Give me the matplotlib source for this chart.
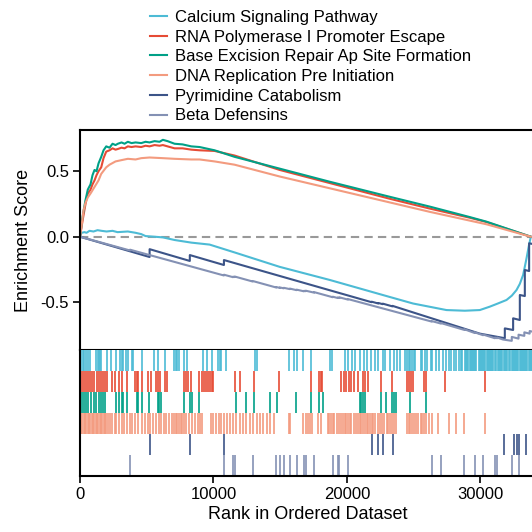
import matplotlib
matplotlib.use("Agg")
import matplotlib.pyplot as plt
from matplotlib.lines import Line2D

plt.rcParams['font.family'] = ['Liberation Sans', 'DejaVu Sans']

# gene set names and colours (ggsci npg)
set_names = ["Calcium Signaling Pathway", "RNA Polymerase I Promoter Escape",
             "Base Excision Repair Ap Site Formation", "DNA Replication Pre Initiation",
             "Pyrimidine Catabolism", "Beta Defensins"]
set_colors = ["#4DBBD5", "#E64B35", "#00A087", "#F39B7F", "#3C5488", "#8491B4"]

# running enrichment score
es_x_calcium = [0, 113, 338, 488, 713, 1013, 1313, 1613, 1988, 2438, 2813, 3585, 4163, 4590, 4913,
                5588, 6210, 7088, 8340, 9713, 11588, 14963, 18713, 23213, 24960, 27465, 28838,
                29963, 30713, 31313, 31965, 32363, 32715, 32963, 33210, 33465, 33638, 33788]
es_y_calcium = [0, 0.03, 0.035, 0.03, 0.045, 0.04, 0.05, 0.045, 0.04, 0.045, 0.035, 0.04, 0.03,
                0.02, 0.005, 0.0, -0.005, -0.025, -0.045, -0.06, -0.12, -0.23, -0.33, -0.46,
                -0.51, -0.56, -0.565, -0.56, -0.534, -0.51, -0.483, -0.45, -0.407, -0.36,
                -0.292, -0.165, -0.07, 0.0]

es_x_pos = [0, 188, 413, 585, 788, 938, 1088, 1238, 1388, 1590, 1763, 1965, 2213, 2438, 2663, 2835,
            3113, 3338, 3585, 3863, 4163, 4590, 4913, 5213, 5588, 5963, 6210, 6563, 7088, 7688,
            8340, 8963, 10088, 11588, 14963, 18713, 23213, 26213, 29213, 30465, 33788]
es_y_rna = [0, 0.12, 0.25, 0.33, 0.36, 0.40, 0.43, 0.47, 0.50, 0.53, 0.60, 0.65, 0.66, 0.675, 0.665,
            0.67, 0.68, 0.675, 0.69, 0.685, 0.69, 0.685, 0.695, 0.69, 0.70, 0.695, 0.70, 0.69,
            0.675, 0.675, 0.665, 0.66, 0.655, 0.62, 0.51, 0.41, 0.29, 0.215, 0.145, 0.112, 0.0]
es_y_ber = [0, 0.15, 0.28, 0.36, 0.40, 0.47, 0.51, 0.50, 0.56, 0.61, 0.66, 0.69, 0.68, 0.71, 0.70,
            0.71, 0.72, 0.71, 0.725, 0.715, 0.72, 0.715, 0.725, 0.72, 0.73, 0.725, 0.74, 0.73,
            0.71, 0.705, 0.69, 0.685, 0.66, 0.61, 0.52, 0.42, 0.305, 0.23, 0.15, 0.115, 0.0]

es_x_dna = [0, 113, 263, 413, 585, 788, 1088, 1388, 1590, 1965, 2213, 2663, 3113, 3585, 4163, 4590,
            5213, 6210, 7088, 8340, 8963, 10088, 11588, 14963, 18713, 22463, 26213, 30465, 33788]
es_y_dna = [0, 0.08, 0.20, 0.26, 0.30, 0.33, 0.38, 0.43, 0.48, 0.53, 0.55, 0.575, 0.585, 0.595,
            0.59, 0.60, 0.605, 0.60, 0.595, 0.59, 0.59, 0.575, 0.55, 0.46, 0.37, 0.28, 0.19,
            0.095, 0.0]

es_x_pyr = [0, 5217, 5217, 8230, 8230, 10787, 10787, 21852, 21852, 22358, 22358, 22687, 22687,
            23422, 23422, 29963, 31838, 31838, 32460, 32460, 32963, 32963, 33338, 33338, 33660,
            33660, 33900]
es_y_pyr = [0, -0.155, -0.095, -0.185, -0.140, -0.216, -0.178, -0.500, -0.496, -0.510, -0.506,
            -0.515, -0.511, -0.532, -0.528, -0.74, -0.775, -0.700, -0.712, -0.623, -0.636, -0.445,
            -0.453, -0.254, -0.262, -0.05, -0.055]

es_x_beta = [0, 3748, 3748, 10787, 10787, 11471, 11471, 11597, 11597, 12940, 12940, 14711, 14711,
             14965, 14965, 15269, 15269, 15724, 15724, 16230, 16230, 16786, 16786, 16913, 16913,
             17546, 17546, 18938, 18938, 19320, 19320, 19446, 19446, 20080, 20080, 26359, 26359,
             27043, 27043, 28815, 28815, 29575, 29575, 30208, 30208, 31094, 31094, 31270, 31270,
             31700, 32360, 32360, 32866, 32866, 33300, 33300, 33700, 33700, 33900]
es_y_beta = [0, -0.105, -0.099, -0.296, -0.290, -0.309, -0.305, -0.308, -0.304, -0.342, -0.338,
             -0.388, -0.384, -0.391, -0.387, -0.394, -0.390, -0.400, -0.396, -0.408, -0.404,
             -0.417, -0.413, -0.416, -0.412, -0.427, -0.423, -0.462, -0.458, -0.468, -0.464,
             -0.467, -0.463, -0.480, -0.476, -0.648, -0.644, -0.663, -0.659, -0.712, -0.707,
             -0.735, -0.730, -0.752, -0.747, -0.775, -0.770, -0.775, -0.770, -0.785, -0.795,
             -0.765, -0.778, -0.748, -0.757, -0.730, -0.740, -0.720, -0.725]

# hit positions for the rug panel
hits_calcium = [80, 203, 330, 457, 634, 786, 1216, 1343, 1419, 1495, 1596, 2052, 2356, 2735, 2989,
                3115, 3242, 3419, 3622, 3875, 4001, 4634, 5521, 5850, 6407, 7040, 7166, 7293, 7420,
                7799, 8053, 9192, 9496, 9876, 10331, 10458, 10585, 10914, 13117, 13243, 15649,
                16028, 16282, 16737, 17294, 18763, 18864, 19826, 20080, 20383, 20586, 20966, 21295,
                21472, 21801, 22105, 22358, 22738, 22865, 23245, 23498, 23751, 24004, 24384, 24511,
                24637, 24764, 24890, 25017, 25144, 25523, 25650, 25853, 26030, 26283, 26410, 26663,
                26916, 27169, 27422, 27676, 27802, 28055, 28182, 28430, 28520, 28600, 28850, 28940,
                29030, 29110, 29200, 29280, 29370, 29450, 29540, 29620, 29710, 29880, 29960, 30050,
                30130, 30220, 30300, 30390, 30470, 30560, 30640, 30730, 30810, 30900, 30980, 31070,
                31150, 31320, 31410, 31490, 31580, 31660, 31750, 31830, 31920, 32000, 32170, 32260,
                32340, 32430, 32510, 32600, 32680, 32770, 32850, 32940, 33020, 33110, 33190, 33280,
                33360, 33450, 33530, 33620, 33700, 33790, 33870]
hits_rna = [127, 279, 457, 583, 735, 887, 1039, 1242, 1393, 1545, 1697, 1849, 2001, 2432, 2609, 2913,
            3115, 3495, 4128, 4255, 4381, 4634, 5065, 5343, 5698, 5850, 6027, 6407, 6533, 7799,
            7926, 8103, 8306, 8939, 9141, 9268, 9445, 9572, 9749, 9876, 10002, 11597, 11977, 13041,
            14889, 17345, 17927, 18054, 18130, 19573, 19776, 19953, 20156, 20333, 20510, 20839,
            21219, 21346, 21599, 22536, 23371, 24511, 24688, 24840, 24941, 25777, 25954, 27372,
            30335]
hits_ber = [127, 330, 482, 634, 836, 1039, 1216, 1393, 1596, 1748, 1900, 2735, 2913, 3115, 3242,
            3495, 4255, 4381, 4634, 5141, 5850, 5951, 6103, 7799, 8230, 8382, 8888, 11724, 12433,
            13041, 14206, 14762, 16155, 17345, 17927, 18181, 20966, 21092, 21219, 21396, 22561,
            22915, 23371, 23498, 23675, 24764, 25954]
hits_dna = [80, 180, 280, 380, 480, 580, 680, 780, 880, 980, 1080, 1180, 1280, 1380, 1480, 1580,
            1680, 1780, 1880, 1980, 2080, 2229, 2406, 2609, 2735, 2913, 3115, 3318, 3495, 3748,
            3925, 4128, 4381, 4634, 4888, 5090, 5267, 5445, 5698, 5900, 6103, 6280, 6457, 6660,
            6913, 7040, 7166, 7293, 7420, 7546, 7673, 7799, 7976, 8179, 8382, 8635, 8812, 8989,
            9141, 9825, 10002, 10205, 10407, 10585, 10762, 11015, 11218, 11471, 11724, 11977,
            12180, 12433, 12737, 12990, 13243, 13496, 13750, 14003, 14256, 14509, 15649, 15775,
            16737, 16915, 17092, 17244, 17421, 17801, 18054, 18560, 18687, 18814, 18940, 19067,
            19269, 19447, 19573, 19700, 19826, 19953, 20080, 20206, 20333, 20535, 20713, 20839,
            20966, 21092, 21219, 21346, 21472, 21599, 21725, 21852, 21979, 22105, 22358, 22485,
            22612, 22814, 22991, 23118, 23245, 23371, 23498, 23675, 24511, 24637, 24764, 24890,
            25017, 25194, 25346, 25523, 25650, 25777, 25954, 26156, 26359, 26866, 27626, 28208,
            28765, 30335]
hits_pyr = [5217, 8230, 10787, 21852, 22358, 22687, 23422, 31750, 32560, 32740, 32866, 33450]
hits_beta = [3748, 10787, 11471, 11597, 12940, 14711, 14965, 15269, 15724, 16230, 16786, 16913,
             17546, 18938, 19320, 19446, 20080, 26359, 27043, 28815, 29575, 30208, 31094, 31270,
             32360, 32866]

x_ticks = [0, 10000, 20000, 30000]
y_ticks = [0.5, 0.0, -0.5]

es_curves = [(es_x_calcium, es_y_calcium), (es_x_pos, es_y_rna), (es_x_pos, es_y_ber),
             (es_x_dna, es_y_dna), (es_x_pyr, es_y_pyr), (es_x_beta, es_y_beta)]
hit_sets = [hits_calcium, hits_rna, hits_ber, hits_dna, hits_pyr, hits_beta]

W = 532.0
fig = plt.figure(figsize=(5.32, 5.32), dpi=100)
ax = fig.add_axes([80 / W, (W - 350) / W, 455 / W, 220 / W])
ax_rug = fig.add_axes([80 / W, (W - 476) / W, 455 / W, 126 / W])

xmax = 34100

ax.axhline(0, color="#999999", lw=1.5, ls=(0, (4, 2.5)), zorder=1)
for (xs, ys), col in zip(es_curves, set_colors):
    ax.plot(xs, ys, color=col, lw=1.5, zorder=2)
ax.set_xlim(0, xmax)
ax.set_ylim(-0.865, 0.815)
ax.set_xticks([])
ax.set_yticks(y_ticks)
ax.set_yticklabels(["0.5", "0.0", "-0.5"])
ax.tick_params(axis="y", length=5, width=1.2, labelsize=12, pad=3)
for sp in ax.spines.values():
    sp.set_linewidth(1.5)
ax.set_ylabel("Enrichment Score", fontsize=13, labelpad=6)

for i, (hits, col) in enumerate(zip(hit_sets, set_colors)):
    ax_rug.vlines(hits, i, i + 1, color=col, lw=1.2)
ax_rug.set_xlim(0, xmax)
ax_rug.set_ylim(6, 0)
ax_rug.set_yticks([])
ax_rug.set_xticks(x_ticks)
ax_rug.set_xticklabels([str(t) for t in x_ticks])
ax_rug.tick_params(axis="x", length=5, width=1.2, labelsize=12, pad=3)
ax_rug.spines["top"].set_visible(False)
ax_rug.spines["right"].set_visible(False)
ax_rug.spines["left"].set_linewidth(1.5)
ax_rug.spines["bottom"].set_linewidth(1.5)
ax_rug.set_xlabel("Rank in Ordered Dataset", fontsize=13, labelpad=3)

handles = [Line2D([], [], color=c, lw=1.5) for c in set_colors]
fig.legend(handles, set_names, loc="upper left", bbox_to_anchor=(150 / W, 1 - 10 / W),
           frameon=False, fontsize=12, handlelength=1.0, handletextpad=0.5,
           labelspacing=0.28, borderpad=0, borderaxespad=0)

fig.savefig("out.png", dpi=100)
